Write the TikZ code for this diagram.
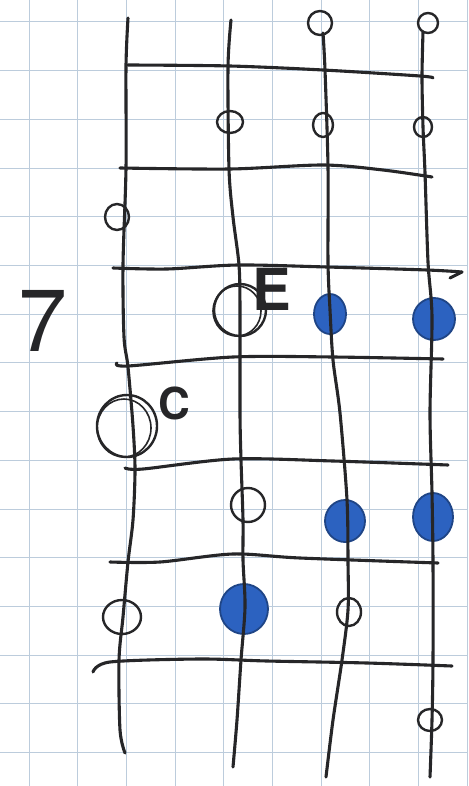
\documentclass[tikz,border=0pt]{standalone}
\usepackage{fontspec}
\setmainfont{TeX Gyre Heros}
\definecolor{ink}{RGB}{38,38,40}
\definecolor{gridblue}{RGB}{188,204,220}
\definecolor{blueink}{RGB}{44,98,192}
\begin{document}
\begin{tikzpicture}[x=1pt,y=-1pt,
  paper/.style={draw=gridblue,line width=1pt},
  pen/.style={draw=ink,line width=3.1pt,line cap=round,line join=round},
  ring/.style={draw=ink,line width=2.4pt},
  blob/.style={fill=blueink,draw=blueink!70!black,line width=1.8pt},
  label/.style={text=ink,inner sep=0pt}]
\useasboundingbox (0,0) rectangle (468,786);
\fill[white] (0,0) rectangle (468,786);
% squared paper
\foreach \gx in {0,...,9}
  \draw[paper] ({29+48.7*\gx},0) -- ({29+48.7*\gx},786);
\foreach \gy in {0,...,15}
  \draw[paper] (0,{22+48.7*\gy}) -- (468,{22+48.7*\gy});
% filled notes
\draw[blob] (330,314) ellipse (16 and 20);
\draw[blob] (434,319) ellipse (21 and 21);
\draw[blob] (345,521) ellipse (20 and 21);
\draw[blob] (433,517) ellipse (20 and 24);
\draw[blob] (244,609) ellipse (24 and 25);
% strings
\draw[pen] plot[smooth] coordinates {(128,18) (126,66) (126,168) (123,265) (124,337) (128,367) (133,426) (135,470) (133,520) (128,562) (123,617) (119,660) (120,730) (125,753)};
\draw[pen] plot[smooth] coordinates {(231,20) (228,67) (229,169) (233,217) (239,265) (240,310) (240,413) (241,460) (243,520) (243,560) (245,607) (241,660) (237,720) (233,767)};
\draw[pen] plot[smooth] coordinates {(323,33) (325,70) (328,167) (328,262) (330,310) (333,360) (340,413) (347,500) (348,562) (348,610) (342,660) (333,720) (326,777)};
\draw[pen] plot[smooth] coordinates {(423,32) (422,77) (423,127) (425,173) (428,262) (432,317) (430,413) (432,493) (433,563) (433,660) (432,720) (430,777)};
% frets
\draw[pen] plot[smooth] coordinates {(128,65) (230,66) (323,70) (420,76) (433,78)};
\draw[pen] plot[smooth] coordinates {(120,168) (230,169) (323,165) (383,170) (432,177)};
\draw[pen] plot[smooth] coordinates {(113,268) (167,269) (238,265) (327,267) (427,270) (462,272)};
\draw[pen] (462,272) -- (450,278);
\draw[pen] plot[smooth] coordinates {(117,363) (128,366) (233,357) (333,357) (443,359)};
\draw[pen] plot[smooth] coordinates {(125,468) (143,469) (233,459) (333,461) (448,465)};
\draw[pen] plot[smooth] coordinates {(110,562) (160,562) (233,554) (300,558) (438,563)};
\draw[pen] plot[smooth] coordinates {(93,672) (110,662) (200,659) (267,661) (367,663) (452,666)};
% open notes
\draw[ring] (320,23) ellipse (12 and 12);
\draw[ring] (428,23) ellipse (10 and 10);
\draw[ring] (230,122) ellipse (13 and 11);
\draw[ring] (323,125) ellipse (10 and 12);
\draw[ring] (423,127) ellipse (9 and 10);
\draw[ring] (117,217) ellipse (12 and 13);
\draw[ring] (240,310) ellipse (26 and 26);
\draw[ring,line width=1.6pt] (237,311) ellipse (24 and 25);
\draw[ring] (127,426) ellipse (30 and 31);
\draw[ring,line width=1.6pt] (124,428) ellipse (27 and 29);
\draw[ring] (248,505) ellipse (17 and 17);
\draw[ring] (122,617) ellipse (19 and 17);
\draw[ring] (349,612) ellipse (12 and 14);
\draw[ring] (430,720) ellipse (12 and 11);
% labels
\node[label,font=\fontsize{88}{88}\selectfont] (seven) at (43,321) {7};
\node[label,font=\fontsize{58}{58}\selectfont\bfseries] (noteE) at (272,289) {E};
\node[label,font=\fontsize{44}{44}\selectfont\bfseries] (noteC) at (174,403) {C};
\end{tikzpicture}
\end{document}
